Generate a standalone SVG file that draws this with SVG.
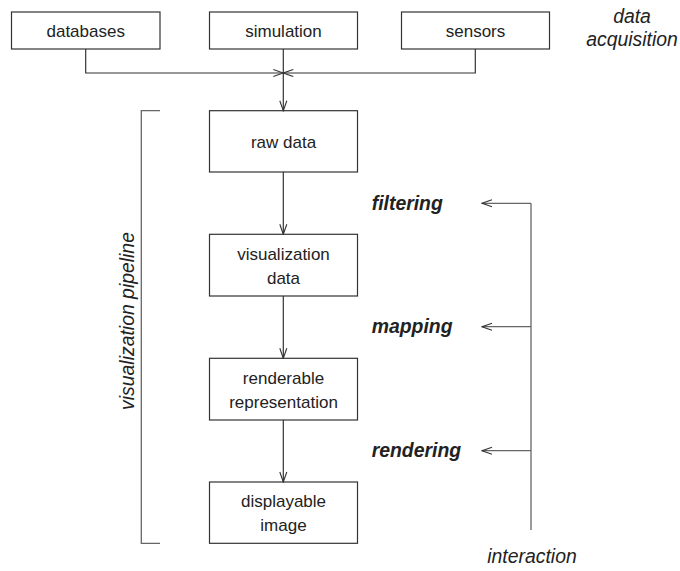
<svg xmlns="http://www.w3.org/2000/svg" width="680" height="571" viewBox="0 0 680 571">
<style>
.box{fill:#fff;stroke:#333;stroke-width:1.2}
.lbl{font-family:"Liberation Sans",Arial,sans-serif;font-size:17px;fill:#222;text-anchor:middle}
.it{font-family:"Liberation Sans",Arial,sans-serif;font-size:19.4px;font-style:italic;fill:#222}
.bi{font-family:"Liberation Sans",Arial,sans-serif;font-size:19.4px;font-style:italic;font-weight:bold;fill:#222}
.ln{fill:none;stroke:#333;stroke-width:1.2}
.gl{fill:none;stroke:#666;stroke-width:1.3}
</style>
<defs>
<marker id="ah" markerUnits="userSpaceOnUse" markerWidth="12" markerHeight="10" viewBox="-1 -5 12 10" refX="10" refY="0" orient="auto">
<path d="M0,-3.5 L10,0 L0,3.5" fill="none" stroke="#333" stroke-width="1.1"/>
</marker>
</defs>
<rect width="680" height="571" fill="#fff"/>
<g id="databases"><rect class="box" x="11.5" y="12" width="148.5" height="37"/><text class="lbl" x="85.7" y="36.5">databases</text></g>
<g id="simulation"><rect class="box" x="209.5" y="12" width="148" height="37"/><text class="lbl" x="283.5" y="36.5">simulation</text></g>
<g id="sensors"><rect class="box" x="401.5" y="12" width="148" height="37"/><text class="lbl" x="475.5" y="36.5">sensors</text></g>
<g id="raw-data"><rect class="box" x="209.5" y="110.7" width="148" height="61.3"/><text class="lbl" x="283.5" y="148">raw data</text></g>
<g id="visualization-data"><rect class="box" x="209.5" y="234.3" width="148" height="61.7"/><text class="lbl" x="283.5" y="259.5">visualization</text><text class="lbl" x="283.5" y="283.5">data</text></g>
<g id="renderable-representation"><rect class="box" x="209.5" y="358.3" width="148" height="61.7"/><text class="lbl" x="283.5" y="384">renderable</text><text class="lbl" x="283.5" y="408">representation</text></g>
<g id="displayable-image"><rect class="box" x="209.5" y="482" width="148" height="61.3"/><text class="lbl" x="283.5" y="507">displayable</text><text class="lbl" x="283.5" y="531">image</text></g>
<g id="labels">
<text class="it" x="632" y="23.3" text-anchor="middle">data</text>
<text class="it" x="632" y="45.7" text-anchor="middle">acquisition</text>
<text class="it" x="0" y="0" text-anchor="middle" transform="translate(134,321) rotate(-90)">visualization pipeline</text>
<text class="bi" x="371.7" y="210">filtering</text>
<text class="bi" x="371.7" y="333">mapping</text>
<text class="bi" x="371.7" y="457.3">rendering</text>
<text class="it" x="532" y="563" text-anchor="middle">interaction</text>
</g>
<g id="connectors">
<path class="ln" d="M85.7,49 V73 H283.3" marker-end="url(#ah)"/>
<path class="ln" d="M475.3,49 V73 H283.3" marker-end="url(#ah)"/>
<path class="ln" d="M283.3,49 V110.7" marker-end="url(#ah)"/>
<path class="ln" d="M283.3,172 V234.3" marker-end="url(#ah)"/>
<path class="ln" d="M283.3,296 V358.3" marker-end="url(#ah)"/>
<path class="ln" d="M283.3,420 V482" marker-end="url(#ah)"/>
<path class="gl" d="M160,110.7 H141.3 V543.3 H160"/>
<path class="gl" d="M531,203.3 V530"/>
<path class="gl" d="M531,203.3 H482" marker-end="url(#ah)"/>
<path class="gl" d="M531,326.7 H482" marker-end="url(#ah)"/>
<path class="gl" d="M531,450.7 H482" marker-end="url(#ah)"/>
</g>
</svg>
